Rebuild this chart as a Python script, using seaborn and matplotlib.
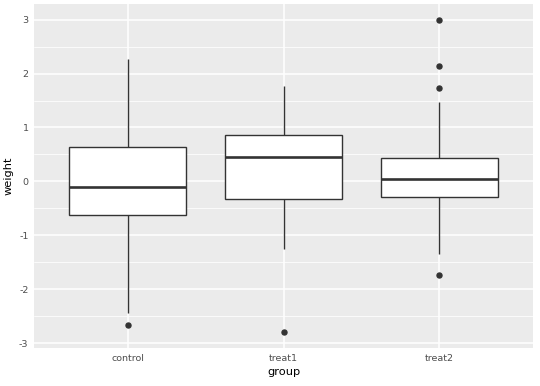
import pandas as pd
import matplotlib
matplotlib.use('Agg')
import matplotlib.pyplot as plt
from matplotlib.ticker import MultipleLocator
import seaborn as sns

# values, chosen so the box stats match
control = [-2.66, -2.44, -1.21, -0.63, -0.41, -0.27, -0.105, 0.12, 0.38, 0.64, 0.97, 1.53, 2.27]
treat1 = [-2.80, -1.25, -0.74, -0.33, -0.05, 0.21, 0.46, 0.58, 0.71, 0.863, 1.12, 1.40, 1.765]
treat2 = [-1.73, -1.35, -0.81, -0.52, -0.29, -0.18, -0.09, -0.02, 0.043,
          0.12, 0.22, 0.33, 0.43, 1.48, 1.74, 2.14, 3.0]
groups = ["control", "treat1", "treat2"]

df = pd.DataFrame({
    "group": ["control"] * len(control) + ["treat1"] * len(treat1) + ["treat2"] * len(treat2),
    "weight": control + treat1 + treat2,
})

sns.set_theme(style="darkgrid")
plt.rcParams['font.family'] = ['DejaVu Sans']
plt.rcParams['axes.unicode_minus'] = False

fig = plt.figure(figsize=(5.4, 3.86), dpi=100)
ax = fig.add_axes([0.063, 0.0985, 0.924, 0.891])
ax.set_facecolor("#EBEBEB")

sns.boxplot(data=df, x="group", y="weight", order=groups, ax=ax,
            color="white", linecolor="#333333", linewidth=1.0, width=0.75,
            showcaps=False, whis=1.5, saturation=1,
            medianprops=dict(color="#333333", linewidth=1.9),
            flierprops=dict(marker="o", markersize=3.6, markerfacecolor="#333333",
                            markeredgecolor="#333333"))

ax.set_xlim(-0.6, 2.6)
ax.set_ylim(-3.09, 3.29)
ax.yaxis.set_major_locator(MultipleLocator(1))
ax.yaxis.set_minor_locator(MultipleLocator(0.5))
ax.grid(which="major", color="white", linewidth=1.1)
ax.grid(which="minor", axis="y", color="white", linewidth=0.55)
ax.set_axisbelow(True)
for s in ax.spines.values():
    s.set_visible(False)

ax.tick_params(axis="both", which="major", length=2.5, width=0.8, color="#333333",
               labelsize=6.8, labelcolor="#4D4D4D", pad=1.5)
ax.tick_params(which="minor", length=0)
ax.set_xlabel("group", fontsize=8.2, color="black", labelpad=3.5)
ax.set_ylabel("weight", fontsize=8.2, color="black", labelpad=4)

fig.savefig("out.png", dpi=100)
